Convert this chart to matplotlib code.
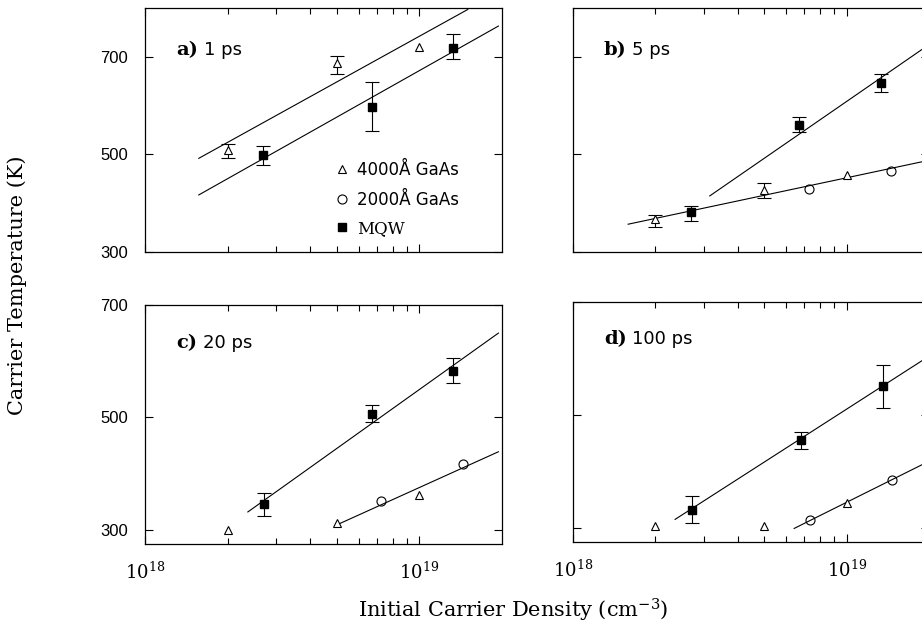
import numpy as np
import matplotlib
matplotlib.use("Agg")
import matplotlib.pyplot as plt
from matplotlib.lines import Line2D
from matplotlib.ticker import NullFormatter

plt.rcParams['mathtext.fontset'] = 'dejavuserif'
nan = np.nan

# ---- data (density in cm^-3, temperature in K) ----
# a) 1 ps
a_tri_n = [2.0e18, 5.0e18, 1.0e19]
a_tri_T = [509, 687, 721]
a_tri_lo = [492, 665, nan]
a_tri_hi = [521, 702, nan]
a_sq_n = [2.7e18, 6.7e18, 1.32e19]
a_sq_T = [498, 598, 719]
a_sq_lo = [478, 549, 695]
a_sq_hi = [517, 649, 746]
a_fit1_n = [1.57e18, 1.50e19]
a_fit1_T = [492, 797]
a_fit2_n = [1.57e18, 1.94e19]
a_fit2_T = [417, 763]

# b) 5 ps
b_tri_n = [2.0e18, 5.0e18, 1.0e19]
b_tri_T = [367, 427, 458]
b_tri_lo = [352, 410, nan]
b_tri_hi = [376, 441, nan]
b_circ_n = [7.26e18, 1.45e19]
b_circ_T = [430, 467]
b_sq_n = [2.7e18, 6.7e18, 1.34e19]
b_sq_T = [381, 560, 646]
b_sq_lo = [364, 545, 628]
b_sq_hi = [395, 576, 665]
b_fit1_n = [3.16e18, 2.0e19]
b_fit1_T = [415, 725]
b_fit2_n = [1.59e18, 2.0e19]
b_fit2_T = [357, 488]

# c) 20 ps
c_tri_n = [2.0e18, 5.0e18, 1.0e19]
c_tri_T = [300, 312, 362]
c_circ_n = [7.26e18, 1.44e19]
c_circ_T = [352, 417]
c_sq_n = [2.72e18, 6.73e18, 1.33e19]
c_sq_T = [346, 507, 583]
c_sq_lo = [325, 492, 561]
c_sq_hi = [366, 522, 606]
c_fit1_n = [2.37e18, 1.94e19]
c_fit1_T = [332, 650]
c_fit2_n = [5.0e18, 1.94e19]
c_fit2_T = [309, 439]

# d) 100 ps
d_tri_n = [2.0e18, 5.0e18, 1.0e19]
d_tri_T = [304, 304, 344]
d_circ_n = [7.33e18, 1.46e19]
d_circ_T = [314, 385]
d_sq_n = [2.72e18, 6.8e18, 1.36e19]
d_sq_T = [332, 455, 551]
d_sq_lo = [308, 439, 512]
d_sq_hi = [357, 470, 589]
d_fit1_n = [2.36e18, 2.0e19]
d_fit1_T = [315, 604]
d_fit2_n = [6.43e18, 2.0e19]
d_fit2_T = [299, 418]

temp_ticks = [300, 500, 700]
density_ticks = [1e18, 1e19]
density_labels = [r'$10^{18}$', r'$10^{19}$']
minor_density = [k * 1e18 for k in range(2, 10)]
legend_labels = ['4000Å GaAs', '2000Å GaAs', 'MQW']

SANS = 'DejaVu Sans'
SERIF = 'DejaVu Serif'

fig = plt.figure(figsize=(9.22, 6.26), dpi=100)
ax_a = fig.add_axes([0.1573, 0.5974, 0.3872, 0.3898])
ax_b = fig.add_axes([0.6215, 0.5974, 0.3861, 0.3898])
ax_c = fig.add_axes([0.1573, 0.1310, 0.3872, 0.3818])
ax_d = fig.add_axes([0.6215, 0.1342, 0.3861, 0.3834])


def setup(ax, ylim, left_labels, bottom_labels):
    ax.set_xscale('log')
    ax.set_xlim(1e18, 2e19)
    ax.set_ylim(*ylim)
    ax.set_xticks(density_ticks)
    ax.set_xticks(minor_density, minor=True)
    ax.xaxis.set_minor_formatter(NullFormatter())
    ax.set_yticks(temp_ticks)
    ax.tick_params(which='both', direction='in', top=True, right=True, width=0.8)
    ax.tick_params(which='major', length=6)
    ax.tick_params(which='minor', length=4)
    ax.tick_params(axis='x', pad=13)
    ax.tick_params(axis='y', pad=12)
    if bottom_labels:
        ax.set_xticklabels(density_labels, fontsize=13, family=SERIF)
    else:
        ax.set_xticklabels([])
    if left_labels:
        ax.set_yticklabels([str(t) for t in temp_ticks], fontsize=12, family='Liberation Sans')
    else:
        ax.set_yticklabels([])
    for s in ax.spines.values():
        s.set_linewidth(0.9)


def panel_label(ax, letter, text, y):
    t = ax.text(0.087, y, letter, transform=ax.transAxes, fontsize=14,
                fontweight='bold', family=SERIF, va='center')
    ax.annotate(text, xy=(1, 0), xycoords=t, xytext=(4, 0),
                textcoords='offset points', fontsize=13, family=SANS, va='bottom')


def errs(T, lo, hi):
    T = np.array(T, float)
    return [T - np.array(lo, float), np.array(hi, float) - T]


line_kw = dict(color='black', lw=0.8)
err_kw = dict(fmt='none', ecolor='black', elinewidth=0.8, capsize=5, capthick=0.8)
tri_kw = dict(ls='none', marker='^', ms=5.5, mfc='white', mec='black', mew=0.8)
circ_kw = dict(ls='none', marker='o', ms=6.5, mfc='none', mec='black', mew=0.8)
sq_kw = dict(ls='none', marker='s', ms=5.2, mfc='black', mec='black')

# a)
ax_a.plot(a_fit1_n, a_fit1_T, **line_kw)
ax_a.plot(a_fit2_n, a_fit2_T, **line_kw)
ax_a.errorbar(a_tri_n, a_tri_T, yerr=errs(a_tri_T, a_tri_lo, a_tri_hi), **err_kw)
ax_a.errorbar(a_sq_n, a_sq_T, yerr=errs(a_sq_T, a_sq_lo, a_sq_hi), **err_kw)
ax_a.plot(a_tri_n, a_tri_T, **tri_kw)
ax_a.plot(a_sq_n, a_sq_T, **sq_kw)

# b)
ax_b.plot(b_fit1_n, b_fit1_T, **line_kw)
ax_b.plot(b_fit2_n, b_fit2_T, **line_kw)
ax_b.errorbar(b_tri_n, b_tri_T, yerr=errs(b_tri_T, b_tri_lo, b_tri_hi), **err_kw)
ax_b.errorbar(b_sq_n, b_sq_T, yerr=errs(b_sq_T, b_sq_lo, b_sq_hi), **err_kw)
ax_b.plot(b_tri_n, b_tri_T, **tri_kw)
ax_b.plot(b_circ_n, b_circ_T, **circ_kw)
ax_b.plot(b_sq_n, b_sq_T, **sq_kw)

# c)
ax_c.plot(c_fit1_n, c_fit1_T, **line_kw)
ax_c.plot(c_fit2_n, c_fit2_T, **line_kw)
ax_c.errorbar(c_sq_n, c_sq_T, yerr=errs(c_sq_T, c_sq_lo, c_sq_hi), **err_kw)
ax_c.plot(c_tri_n, c_tri_T, **tri_kw)
ax_c.plot(c_circ_n, c_circ_T, **circ_kw)
ax_c.plot(c_sq_n, c_sq_T, **sq_kw)

# d)
ax_d.plot(d_fit1_n, d_fit1_T, **line_kw)
ax_d.plot(d_fit2_n, d_fit2_T, **line_kw)
ax_d.errorbar(d_sq_n, d_sq_T, yerr=errs(d_sq_T, d_sq_lo, d_sq_hi), **err_kw)
ax_d.plot(d_tri_n, d_tri_T, **tri_kw)
ax_d.plot(d_circ_n, d_circ_T, **circ_kw)
ax_d.plot(d_sq_n, d_sq_T, **sq_kw)

setup(ax_a, (300, 800), True, False)
setup(ax_b, (300, 800), False, False)
setup(ax_c, (275, 700), True, True)
setup(ax_d, (275, 700), False, True)

panel_label(ax_a, 'a)', '1 ps', 0.828)
panel_label(ax_b, 'b)', '5 ps', 0.828)
panel_label(ax_c, 'c)', '20 ps', 0.842)
panel_label(ax_d, 'd)', '100 ps', 0.846)

# legend in panel a
handles = [Line2D([], [], **tri_kw), Line2D([], [], **circ_kw), Line2D([], [], **sq_kw)]
leg = ax_a.legend(handles, legend_labels, loc='upper left', bbox_to_anchor=(0.49, 0.435),
                  frameon=False, handlelength=0.8, handletextpad=0.5,
                  labelspacing=0.7, prop={'family': SANS, 'size': 12})
leg.get_texts()[2].set_family(SERIF)

fig.text(17 / 922, 1 - 285 / 626, 'Carrier Temperature (K)', rotation=90,
         ha='center', va='center', fontsize=15, family=SERIF)
fig.text(513 / 922, 1 - 610 / 626, r'Initial Carrier Density (cm$^{-3}$)',
         ha='center', va='center', fontsize=15, family=SERIF)

fig.savefig('out.png', dpi=100)
